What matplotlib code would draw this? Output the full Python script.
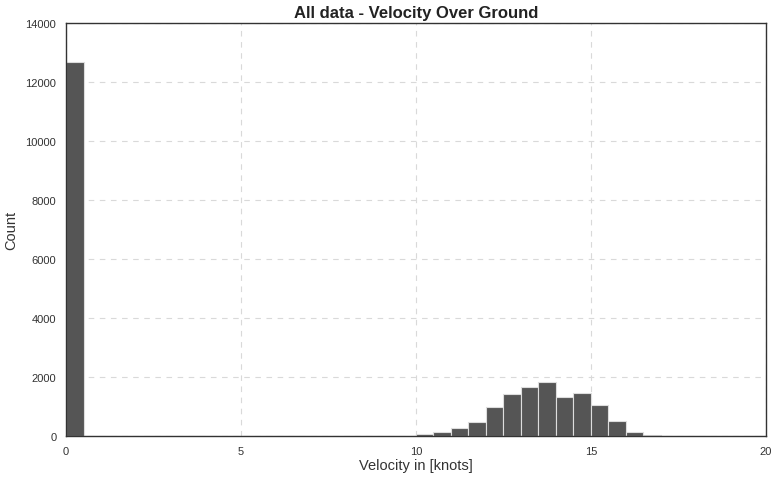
import numpy as np
import matplotlib
matplotlib.use("Agg")
import matplotlib.pyplot as plt

plt.rcParams['font.family'] = ['Liberation Sans', 'DejaVu Sans']

# histogram bins (knots), width 0.5 from 0 to 20
bin_edges = np.arange(0, 20.5, 0.5)
counts = [12680, 15, 12, 10, 8, 5, 4, 3, 3, 2,
          2, 2, 2, 2, 2, 2, 2, 3, 5, 10,
          70, 120, 260, 485, 970, 1425, 1650, 1840, 1310, 1445,
          1050, 500, 145, 20, 3, 0, 0, 0, 0, 0]

fig = plt.figure(figsize=(7.72, 4.81), dpi=100)
ax = fig.add_axes([0.0855, 0.0915, 0.9065, 0.8585])

ax.bar(bin_edges[:-1], counts, width=0.5, align='edge',
       color='#555555', edgecolor='#dddddd', linewidth=0.8, zorder=2)

ax.set_xlim(0, 20)
ax.set_ylim(0, 14000)
ax.set_xticks([0, 5, 10, 15, 20])
ax.set_yticks(range(0, 14001, 2000))
ax.tick_params(length=0, labelsize=8, colors='#333333', pad=7)
ax.grid(True, linestyle=(0, (5, 5)), color='#d9d9d9', linewidth=0.8, zorder=0)
for s in ax.spines.values():
    s.set_color('#333333')
    s.set_linewidth(1.0)

ax.set_title("All data - Velocity Over Ground", fontsize=12, fontweight='bold',
             color='#222222', pad=4)
ax.set_xlabel("Velocity in [knots]", fontsize=10.5, color='#333333', labelpad=2)
ax.set_ylabel("Count", fontsize=10.5, color='#333333', labelpad=5)

fig.savefig("out.png", dpi=100)
